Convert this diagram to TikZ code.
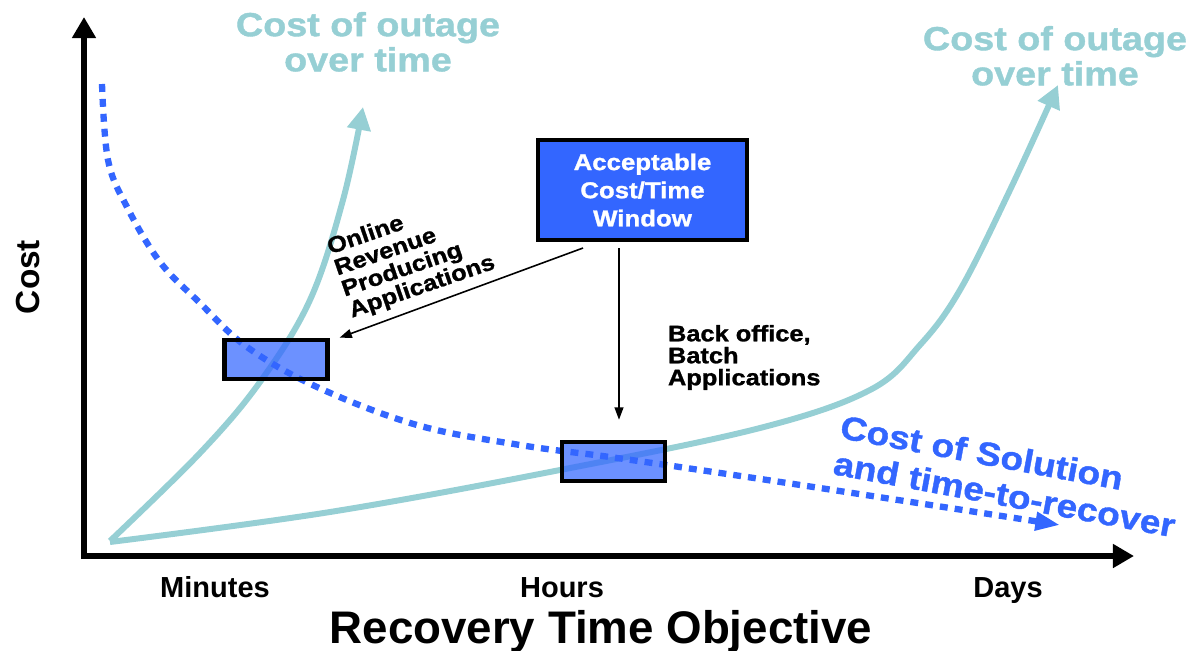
\documentclass[tikz,border=0pt]{standalone}
\usepackage{fontspec}
\setmainfont{Liberation Sans}
\newfontfamily\widefont[FakeStretch=1.13, BoldFeatures={FakeBold=1.2}]{Liberation Sans}
\usetikzlibrary{arrows.meta,positioning}

\definecolor{outage}{RGB}{150,207,212}
\definecolor{solution}{RGB}{51,102,255}

\tikzset{
  axis/.style={line width=3.4pt, -{Triangle[length=12pt,width=13pt]}},
  outagecurve/.style={outage, line width=3.4pt, -{Triangle[length=13pt,width=13pt]}},
  solutioncurve/.style={solution, line width=3.6pt, dash pattern=on 4.5pt off 4pt, -{Triangle[length=14pt,width=10pt]}},
  appbox/.style={draw=black, line width=2.3pt, fill=solution, fill opacity=0.72, minimum width=2.06cm, minimum height=0.79cm},
  windowbox/.style={draw=black, line width=2.3pt, fill=solution, text=white, align=center, minimum width=4.18cm, minimum height=2cm},
  pointer/.style={line width=0.9pt, -{Triangle[length=7pt,width=5pt]}},
  label/.style={inner sep=0pt, outer sep=0pt},
}

\begin{document}
\begin{tikzpicture}[x=0.02cm, y=-0.02cm]
        \useasboundingbox (0,0) rectangle (1194,650);

        %axes
        \coordinate (origin) at (84,556);
        \coordinate (ytop) at (84,17);
        \coordinate (xend) at (1134,556);
        \draw [axis] (origin) ++(0,3) -- (ytop);
        \draw [axis] (origin) ++(-3,0) -- (xend);

        %the main figure starts
        \draw [outagecurve] plot [smooth, tension=0.6] coordinates {(110,541) (200,453) (260,382) (310,300) (343,200) (363,107)};
        \draw [outagecurve] plot [smooth, tension=0.6] coordinates {(110,542) (330,512) (560,470) (760,428) (870,390) (920,345) (960,290) (1010,190) (1058,85)};
        \draw [solutioncurve] plot [smooth, tension=0.6] coordinates {(102,84) (108,160) (127,207) (160,262) (200,303) (247,347) (317,387) (417,425) (520,445) (610,457) (700,470) (820,488) (1060,525)};

        %windows
        \node [appbox] (online) at (276,359.5) {};
        \node [appbox] (batch) at (613.5,461.5) {};
        \node [windowbox, font=\widefont\bfseries\fontsize{13}{16}\selectfont] (acc) at (642.5,190) {Acceptable\\Cost/Time\\Window};

        \draw [pointer] ([xshift=-1.19cm,yshift=-0.12cm]acc.south) -- ([xshift=0.2cm]online.north east);
        \draw [pointer] ([xshift=-0.47cm,yshift=-0.12cm]acc.south) -- ([xshift=0.11cm,yshift=0.4cm]batch.north);

        %labels
        \node [label, rotate=19, anchor=north west, align=left, font=\widefont\bfseries\fontsize{12.8}{12.7}\selectfont] (onlinetext) at (325,239) {Online\\Revenue\\Producing\\Applications};
        \node [label, anchor=north west, align=left, font=\widefont\bfseries\fontsize{12.8}{12.5}\selectfont] (batchtext) at (668,325) {Back office,\\Batch\\Applications};

        \node [label, outage, anchor=north, align=center, font=\widefont\bfseries\fontsize{19}{20}\selectfont] (outageleft) at (368,12) {Cost of outage\\over time};
        \node [label, outage, anchor=north, align=center, font=\widefont\bfseries\fontsize{19}{20}\selectfont] (outageright) at (1055,26) {Cost of outage\\over time};
        \node [label, solution, rotate=-10.5, align=left, font=\widefont\bfseries\fontsize{18.7}{21}\selectfont] (solutiontext) at (1008,476) {Cost of Solution\\and time-to-recover};

        \node [label, rotate=90, font=\bfseries\fontsize{19}{22}\selectfont] (costlabel) at (28,277) {Cost};
        \node [label, anchor=base, font=\bfseries\fontsize{16.5}{18}\selectfont] (minutes) at (215,597) {Minutes};
        \node [label, anchor=base, font=\bfseries\fontsize{16.5}{18}\selectfont] (hours) at (562,597) {Hours};
        \node [label, anchor=base, font=\bfseries\fontsize{16.5}{18}\selectfont] (days) at (1008,597) {Days};
        \node [label, anchor=base, font=\bfseries\fontsize{26}{28}\selectfont] (rto) at (601,643) {Recovery Time Objective};
\end{tikzpicture}
\end{document}
